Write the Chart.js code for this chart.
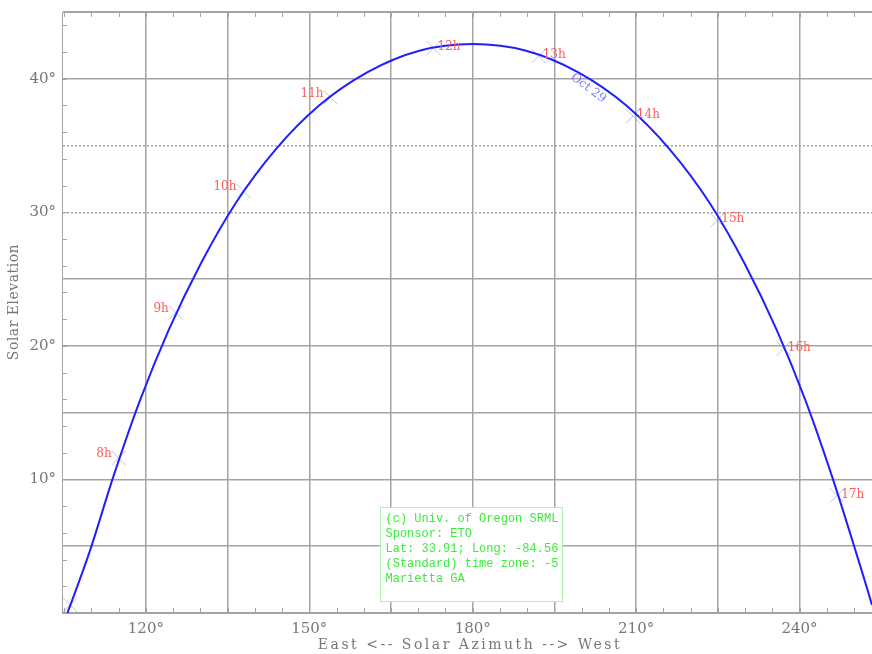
<!DOCTYPE html>
<html>
<head>
<meta charset="utf-8">
<script src="https://cdn.jsdelivr.net/npm/chart.js@4.4.1/dist/chart.umd.min.js"></script>
<style>
body { margin: 0; background: #fff; }
canvas { display: block; }
</style>
</head>
<body>
<canvas id="myChart" width="872" height="654"></canvas>
<script>
// sun path for Oct 29, azimuth (deg) vs elevation (deg)
var pathAz = [105.6, 109.6, 114.1, 118.9, 124.2, 130.0, 136.5, 143.8, 151.8, 160.7, 170.2, 180.0,
              189.8, 199.3, 208.2, 216.2, 223.5, 230.0, 235.8, 241.1, 245.9, 250.4, 253.3, 254.2];
var pathEl = [0.0, 4.5, 10.3, 15.9, 21.2, 26.1, 30.7, 34.7, 38.0, 40.5, 42.1, 42.6,
              42.1, 40.5, 38.0, 34.7, 30.7, 26.1, 21.2, 15.9, 10.3, 4.5, 0.6, -0.7];

// hour marks on the path
var hourAz = [106.1, 115.0, 125.5, 137.9, 153.9, 172.8, 192.1, 209.4, 224.9, 237.1, 246.9];
var hourEl = [0.6, 11.6, 22.5, 31.6, 38.6, 42.3, 41.7, 37.2, 29.4, 19.8, 8.8];
var hourLabels = ['', '8h', '9h', '10h', '11h', '12h', '13h', '14h', '15h', '16h', '17h'];

var xTicks = [120, 135, 150, 165, 180, 195, 210, 225, 240];
var yTicks = [0, 5, 10, 15, 20, 25, 30, 35, 40, 45];
var dottedEl = [30, 35];

var xTitle = 'East <-- Solar Azimuth --> West';
var yTitle = 'Solar Elevation';
var dayLabel = 'Oct 29';
var infoLines = ['(c) Univ. of Oregon SRML', 'Sponsor: ETO', 'Lat: 33.91; Long: -84.56',
                 '(Standard) time zone: -5', 'Marietta GA'];

var serif = '"DejaVu Serif", serif';
var gridCol = '#a4a4a4';

function pts(xs, ys) {
	var out = [];
	for (var i = 0; i < xs.length; i++) out.push({x: xs[i], y: ys[i]});
	return out;
}

function noPad(s) {
	s.paddingLeft = 0; s.paddingRight = 0; s.paddingTop = 0; s.paddingBottom = 0;
}

var extras = {
	id: 'extras',
	afterDraw: function(chart) {
		var c = chart.ctx, a = chart.chartArea;
		var xs = chart.scales.x, ys = chart.scales.y;
		c.save();
		// top border and small ticks
		c.strokeStyle = gridCol;
		c.lineWidth = 1;
		c.beginPath();
		c.moveTo(a.left, Math.round(a.top) + 0.5);
		c.lineTo(a.right, Math.round(a.top) + 0.5);
		for (var v = 105; v < 254; v += 5) {
			var px = Math.round(xs.getPixelForValue(v)) + 0.5;
			c.moveTo(px, a.bottom); c.lineTo(px, a.bottom - 5);
			c.moveTo(px, a.top); c.lineTo(px, a.top + 5);
		}
		for (var e = 2; e < 45; e += 2) {
			var py = Math.round(ys.getPixelForValue(e)) + 0.5;
			c.moveTo(a.left, py); c.lineTo(a.left + 5, py);
		}
		c.stroke();

		// axis titles
		c.fillStyle = '#777';
		c.textAlign = 'center';
		c.textBaseline = 'middle';
		c.font = '14px ' + serif;
		c.letterSpacing = '2.5px';
		c.fillText(xTitle, (a.left + a.right) / 2 + 3, 645);
		c.save();
		c.translate(14, 302);
		c.rotate(-Math.PI / 2);
		c.letterSpacing = '0.5px';
		c.fillText(yTitle, 0, 0);
		c.restore();
		c.letterSpacing = '0px';

		// hour labels
		var meta = chart.getDatasetMeta(1);
		c.font = '12px ' + serif;
		c.fillStyle = '#ff5c5c';
		meta.data.forEach(function(pt, i) {
			if (!hourLabels[i]) return;
			if (hourAz[i] < 170) {
				c.textAlign = 'right';
				c.fillText(hourLabels[i], pt.x - 7, pt.y - 4);
			} else {
				c.textAlign = 'left';
				c.fillText(hourLabels[i], pt.x + 4, pt.y - 1);
			}
		});

		// date along the curve
		c.save();
		c.translate(xs.getPixelForValue(201.2), ys.getPixelForValue(39.3));
		c.rotate(37 * Math.PI / 180);
		c.fillStyle = 'rgba(100,100,255,0.85)';
		c.textAlign = 'center';
		c.fillText(dayLabel, 0, 0);
		c.restore();

		// info box
		var bx = a.left + 318.5, by = a.top + 495.5, bw = 182, bh = 94;
		c.fillStyle = '#fff';
		c.fillRect(bx, by, bw, bh);
		c.strokeStyle = '#aef2ae';
		c.lineWidth = 1;
		c.strokeRect(bx, by, bw, bh);
		c.font = '12px "Liberation Mono", "Courier New", monospace';
		c.fillStyle = '#3dea3d';
		c.textAlign = 'left';
		infoLines.forEach(function(t, i) {
			c.fillText(t, bx + 5, by + 11 + i * 15);
		});
		c.restore();
	}
};

var ctx = document.getElementById('myChart').getContext('2d');
var chart = new Chart(ctx, {
	type: 'scatter',
	data: {
		datasets: [{
			data: pts(pathAz, pathEl),
			showLine: true,
			borderColor: '#1f1fff',
			borderWidth: 2,
			pointRadius: 0,
			cubicInterpolationMode: 'monotone',
			order: 0
		}, {
			data: pts(hourAz, hourEl),
			showLine: false,
			pointStyle: 'crossRot',
			pointRadius: 10,
			borderWidth: 1,
			borderColor: 'rgba(140,140,255,0.55)',
			order: 1
		}]
	},
	options: {
		responsive: false,
		animation: false,
		layout: { autoPadding: false, padding: { top: 12, right: 0, left: 0, bottom: 0 } },
		plugins: { legend: { display: false }, tooltip: { enabled: false } },
		scales: {
			x: {
				type: 'linear',
				min: 104.6,
				max: 253.3,
				afterBuildTicks: function(s) { s.ticks = xTicks.map(function(v) { return {value: v}; }); },
				afterFit: function(s) { s.height = 41; noPad(s); },
				grid: { color: gridCol, lineWidth: 1.5, drawTicks: false },
				border: { color: gridCol, width: 1 },
				ticks: {
					autoSkip: false, maxRotation: 0, padding: 7,
					color: '#777', font: { family: serif, size: 15 },
					callback: function(v) { return v % 30 === 0 ? v + '°' : ''; }
				}
			},
			y: {
				type: 'linear',
				min: 0,
				max: 45,
				afterBuildTicks: function(s) { s.ticks = yTicks.map(function(v) { return {value: v}; }); },
				afterFit: function(s) { s.width = 62; noPad(s); },
				grid: { color: gridCol, lineWidth: 1.5, drawTicks: false },
				border: {
					color: gridCol, width: 1,
					dash: function(c) { return c.tick && dottedEl.indexOf(c.tick.value) >= 0 ? [2, 2] : []; }
				},
				ticks: {
					autoSkip: false, padding: 6,
					color: '#777', font: { family: serif, size: 15 },
					callback: function(v) { return v % 10 === 0 && v > 0 ? v + '°' : ''; }
				}
			}
		}
	},
	plugins: [extras]
});
</script>
</body>
</html>
